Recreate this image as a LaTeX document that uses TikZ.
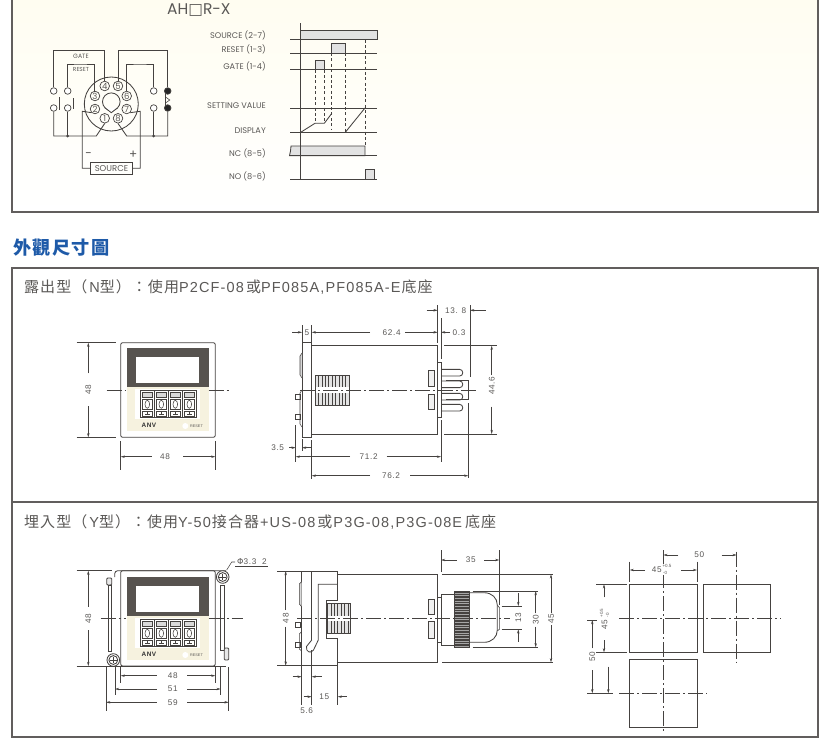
\documentclass[tikz,border=0pt]{standalone}
\usepackage{fontspec}
\setmainfont{Liberation Sans}
\newfontfamily\cjk[LetterSpace=7]{Noto Sans CJK TC}
\newfontfamily\latsp[LetterSpace=8]{Liberation Sans}
\newfontfamily\geo{Poppins}
\newfontfamily\djv{DejaVu Sans}
\usetikzlibrary{arrows.meta}
\definecolor{lncol}{HTML}{454240}
\definecolor{txtcol}{HTML}{5A5856}
\definecolor{pulsegray}{HTML}{E2E2E2}
\definecolor{bandcol}{HTML}{57534F}
\definecolor{creamcol}{HTML}{F6F2DF}
\definecolor{headblue}{HTML}{1E5AA8}
\definecolor{paneltop}{HTML}{FFFDF1}
\newcommand{\zh}[1]{{\cjk\fontsize{15}{16}\selectfont #1}}
% front of the unit, #1 = vertical shift, #2 = prefix of names
\newcommand{\frontpanel}[2]{
    \begin{scope}[shift={(0,#1)}]
        \fill[creamcol] (127.3,387.3) rectangle (208.7,430.7);
        \fill[white] (135,388.5) rectangle (200,418.5);
        \fill[bandcol] (127.3,348.3) rectangle (208.7,387.3);
        \fill[white] (136.3,356.7) rectangle (199.3,383.3);
        \draw[thinl] (140,390.3) rectangle (196,417.7);
        \foreach \k in {0,14,28,42} {
            \draw[thinl] (140+\k,390.3) -- (140+\k,417.7);
            \draw[thinl, fill=gray!30] (142.7+\k,392) rectangle (152+\k,397.5);
            \draw[thinl] (142.7+\k,399.3) rectangle (152+\k,409.3);
            \draw[thinl] (147.3+\k,404.3) ellipse (2.3pt and 4pt);
            \draw[thinl] (142.7+\k,411) rectangle (152+\k,416.7);
            \draw[thinl] (145+\k,413.9) -- (150+\k,413.9) (147.5+\k,412.4) -- (147.5+\k,415.4);
        }
        \node[font=\latsp\fontsize{6.4}{7}\selectfont\bfseries, text=black!80] (#2anv) at (149,425.7) {ANV};
        \fill[white] (185.3,426) circle[radius=3pt];
        \node[font=\fontsize{3.8}{4}\selectfont] (#2rst) at (196.5,426) {RESET};
    \end{scope}
}
% cooling slots seen from the side
\newcommand{\finblock}[5]{
    \fill[gray!22] (#1,#3) rectangle (#2,#4);
    \foreach \f in {0,...,#5} \draw[thinl, line width=.3pt] (#1+\f*3.4,#3) -- (#1+\f*3.4,#4);
    \draw[thinl] (#1,#3) rectangle (#2,#4);
}
\begin{document}
\begin{tikzpicture}[
        x=1pt, y=-1pt,
        >={Stealth[length=4.2pt, width=2.4pt]},
        every node/.style={inner sep=0pt, text=txtcol},
        outl/.style={draw=lncol, line width=.85pt},
        thinl/.style={draw=lncol, line width=.55pt},
        boxl/.style={draw=lncol!85, line width=1.1pt},
        axis/.style={thinl, dash pattern=on 15pt off 3pt on 2pt off 3pt},
        lbl/.style={font=\latsp\fontsize{8.2}{9}\selectfont},
        vlbl/.style={lbl, rotate=90},
        tinylbl/.style={font=\fontsize{4.5}{5}\selectfont},
        tlbl/.style={font=\geo\fontsize{8.2}{9}\selectfont, anchor=east},
        pulse/.style={outl, fill=pulsegray},
        ter/.style={draw=lncol, line width=.7pt, circle, minimum size=9.6pt, font=\geo\fontsize{8.5}{9}\selectfont},
        sw/.style={draw=lncol, line width=.7pt, circle, fill=white, minimum size=6.6pt},
        swon/.style={sw, fill=black!85},
        jn/.style={circle, fill=lncol, minimum size=3pt},
    ]
    \useasboundingbox (0,0) rectangle (830,752);
    % top panel
    \shade[top color=paneltop, bottom color=white] (12,0) rectangle (818,212);
    \draw[boxl] (12,0) -- (12,212) -- (818,212) -- (818,0);
    \node[font=\geo\fontsize{15.5}{17}\selectfont, anchor=west] (title) at (167,10) {AH{\djv □}R-X};
    % socket
    \draw[outl] (111.3,104) circle[radius=27pt];
    \draw[outl] (111.3,101.7) circle[radius=8.8pt];
    \fill[white] (104.9,107.7) -- (117.7,107.7) -- (111.3,112.7) -- cycle;
    \draw[outl] (104.9,107.7) -- (111.3,112.7) -- (117.7,107.7);
    \foreach \n/\px/\py in {1/104.7/118.3, 2/95/109, 3/95/96, 4/104.7/86, 5/118/86, 6/126.7/96, 7/126.7/109, 8/118/118.3}
        \node[ter] (t\n) at (\px,\py) {\n};
    \node[sw] (swa) at (53.7,91) {};
    \node[sw] (swb) at (67.7,91) {};
    \node[sw] (swc) at (153.7,91) {};
    \node[swon] (swd) at (167.7,91) {};
    \node[sw] (swe) at (53.7,108) {};
    \node[sw] (swf) at (67.7,108) {};
    \node[sw] (swg) at (153.7,108) {};
    \node[swon] (swh) at (167.7,108) {};
    \node[draw=lncol, line width=.7pt, minimum width=41.6pt, minimum height=11.3pt, font=\geo\fontsize{8.5}{9}\selectfont] (source) at (111.5,168.3) {SOURCE};
    \coordinate (gatetop) at (80,50.7);
    \coordinate (rsttop) at (80,64);
    \coordinate (fivetop) at (140,50.7);
    \coordinate (sixtop) at (140,64);
    \coordinate (buslft) at (96.3,136);
    \coordinate (busrgt) at (126.7,136);
    \coordinate (ltwo) at (82.3,111.3);
    \coordinate (lsev) at (140.3,111.3);
    \draw[outl] (swa.north) |- (gatetop) -| (t4.north);
    \draw[outl] (swb.north) |- (rsttop) -| (94.3,91.5);
    \draw[outl] (t5.north) |- (fivetop) -| (swd.north);
    \draw[outl] (t6.north) |- (sixtop) -| (swc.north);
    \draw[outl] (swe.south) |- (buslft) -- (t1.south);
    \draw[outl] (swh.south) |- (busrgt) -- (t8.south);
    \draw[outl] (swf.south) -- (67.7,136);
    \draw[outl] (swg.south) -- (153.7,136);
    \draw[outl] (t2.south west) -- (ltwo) |- (source.west);
    \draw[outl] (t7.south east) -- (lsev) |- (source.east);
    \node[jn] (jna) at (67.7,136) {};
    \node[jn] (jnb) at (153.7,136) {};
    \draw[outl] (59.3,97) -- (59.3,110);
    \draw[outl] (73.3,98) -- (73.3,109);
    \draw[outl] (165.5,94) -- (165.5,106);
    \draw[thinl] (165.5,97) -- (169.8,100) -- (165.5,103);
    \node[font=\geo\fontsize{6.2}{7}\selectfont] (gatelbl) at (81,56.7) {GATE};
    \node[font=\geo\fontsize{5.8}{6}\selectfont] (rstlbl) at (81,69.3) {RESET};
    \node[font=\geo\fontsize{12}{12}\selectfont] (minus) at (88.5,155) {−};
    \node[font=\geo\fontsize{12}{12}\selectfont] (plus) at (133.3,155) {+};
    % timing chart
    \node[tlbl] (tsrc) at (266,35.5) {SOURCE (2-7)};
    \node[tlbl] (trst) at (266,49) {RESET (1-3)};
    \node[tlbl] (tgat) at (266,66) {GATE (1-4)};
    \node[tlbl] (tset) at (266,105.5) {SETTING VALUE};
    \node[tlbl] (tdsp) at (266,130.5) {DISPLAY};
    \node[tlbl] (tnc) at (266,153) {NC (8-5)};
    \node[tlbl] (tno) at (266,176) {NO (8-6)};
    \draw[pulse] (300.7,39.7) rectangle (377,30.7);
    \draw[pulse] (331.7,53) rectangle (345.3,43.7);
    \draw[pulse] (315,69.7) rectangle (324.3,60.7);
    \draw[pulse] (365,155.7) -- (365,146) -- (291,146) -- (290.5,151) -- (289.5,155.7) -- cycle;
    \draw[pulse] (365,179) rectangle (374.7,169.3);
    \foreach \b in {39.7,53,69.7,108,132.3,155.7,179}
        \draw[outl] (290,\b) -- (376.7,\b);
    \draw[outl] (300.7,23.3) -- (300.7,179);
    \draw[outl, dash pattern=on 3pt off 2.4pt] (315,69.7) -- (315,123.3);
    \draw[outl, dash pattern=on 3pt off 2.4pt] (324.3,69.7) -- (324.3,123.3);
    \draw[outl, dash pattern=on 3pt off 2.4pt] (331.7,53) -- (331.7,130);
    \draw[outl, dash pattern=on 3pt off 2.4pt] (345.3,53) -- (345.3,132.3);
    \draw[outl, dash pattern=on 3pt off 2.4pt] (365,39.7) -- (365,146);
    \draw[outl] (300.7,132.3) -- (315,123.3) -- (324.3,123.3) -- (331.7,113.5);
    \draw[outl] (345.3,132.3) -- (365,108);
    % headings
    \node[font=\cjk\fontsize{18.2}{20}\selectfont\bfseries, text=headblue, anchor=west] (head) at (13,248) {外觀尺寸圖};
    \draw[boxl] (12,268) rectangle (818,737);
    \draw[boxl] (12,502) -- (818,502);
    \node[font=\latsp\fontsize{14.5}{16}\selectfont, anchor=west] (headn) at (24,287)
        {\zh{露出型（}\kern2pt N\zh{型）：使用}P2CF-08\kern2pt\zh{或}PF085A,PF085A-E\kern1pt\zh{底座}};
    \node[font=\latsp\fontsize{14.5}{16}\selectfont, anchor=west] (heady) at (24,522)
        {\zh{埋入型（}\kern2pt Y\zh{型）：使用}Y-50\kern1pt\zh{接合器}\kern1pt +US-08\kern2pt\zh{或}\kern1pt P3G-08,P3G-08E\kern3pt\zh{底座}};
    % type N, front
    \frontpanel{0}{n}
    \draw[outl, rounded corners=2pt] (120.7,342.7) rectangle (215.3,437.3);
    \draw[axis] (106.7,390) -- (126,390);
    \draw[axis] (208.7,390) -- (230.7,390);
    \draw[thinl] (76.7,342.7) -- (116,342.7) (76.7,437.3) -- (116,437.3);
    \draw[thinl] (120.7,441) -- (120.7,470) (215.3,441) -- (215.3,470);
    \draw[thinl, ->] (88.3,373.3) -- (88.3,342.7);
    \draw[thinl, ->] (88.3,406) -- (88.3,437.3);
    \node[vlbl] (n48a) at (88.3,390) {48};
    \draw[thinl, ->] (151.7,456.7) -- (120.7,456.7);
    \draw[thinl, ->] (183.3,456.7) -- (215.3,456.7);
    \node[lbl] (n48b) at (165,456.7) {48};
    % type N, side
    \draw[outl] (311.7,345.7) -- (437.7,345.7) -- (437.7,434) -- (311.7,434);
    \draw[outl] (302,342.7) rectangle (311.7,437.3);
    \draw[thinl, fill=gray!30] (302,353) -- (300,356) -- (300,375) -- (302,378);
    \draw[thinl] (302,390) -- (300,393) -- (300,424) -- (302,427);
    \draw[thinl] (295,394.3) rectangle (300,399.3) (295,414.3) rectangle (300,419.3);
    \finblock{315}{349.3}{375}{405}{10}
    \fill[white] (315.5,387.3) rectangle (349,392.7);
    \draw[outl, fill=gray!12] (428.3,370.7) rectangle (434,386);
    \draw[outl, fill=gray!12] (428.3,394) rectangle (434,409.3);
    \foreach \p in {372.7,384.3,396.7,407.7}
        \draw[outl, rounded corners=3pt, fill=white] (441,\p-3.3) -- (462.7,\p-3.3) -- (462.7,\p+3.3) -- (441,\p+3.3);
    \draw[thinl] (446,380.7) -- (468.3,380.7) -- (468.3,399) -- (446,399);
    \draw[outl, fill=white] (437.7,362.3) rectangle (441,417.3);
    \draw[axis] (300,390) -- (476.7,390);
    \draw[thinl] (437.7,305) -- (437.7,343) (441,318.3) -- (441,359.3) (441,420) -- (441,462.3);
    \draw[thinl] (444,345.7) -- (496.7,345.7) (444,434) -- (496.7,434);
    \draw[thinl] (470,305) -- (470,376.7) (468.3,403) -- (468.3,478.3);
    \draw[thinl] (302,325) -- (302,342) (311.7,325) -- (311.7,342);
    \draw[thinl] (295.7,425) -- (295.7,462.3) (302,439) -- (302,450.7) (311.7,440) -- (311.7,479.3);
    \draw[thinl, ->] (491.7,375) -- (491.7,345.7);
    \draw[thinl, ->] (491.7,406.7) -- (491.7,434);
    \node[vlbl] (n446) at (491.7,386) {44.6};
    \draw[thinl, ->] (426.7,310.3) -- (437.7,310.3);
    \draw[thinl, ->] (485.7,310.3) -- (470,310.3);
    \node[lbl] (n138) at (455.7,310.3) {13. 8};
    \draw[thinl, ->] (292.3,332.3) -- (302,332.3);
    \node[lbl] (n5) at (307,332.3) {5};
    \draw[thinl, ->] (370,332.3) -- (311.7,332.3);
    \node[lbl] (n624) at (391.7,332.3) {62.4};
    \draw[thinl, ->] (405,332.3) -- (437.7,332.3);
    \draw[thinl, ->] (450,332.3) -- (441,332.3);
    \node[lbl] (n03) at (459,332.3) {0.3};
    \draw[thinl, ->] (289.3,447.7) -- (295.7,447.7);
    \draw[thinl, ->] (311.7,447.7) -- (302,447.7);
    \node[lbl] (n35) at (277.7,447.7) {3.5};
    \draw[thinl, ->] (350,456.7) -- (295.7,456.7);
    \node[lbl] (n712) at (368.7,456.7) {71.2};
    \draw[thinl, ->] (386.7,456.7) -- (441,456.7);
    \draw[thinl, ->] (370,475.7) -- (311.7,475.7);
    \node[lbl] (n762) at (391,475.7) {76.2};
    \draw[thinl, ->] (410,475.7) -- (468.3,475.7);
    % type Y, front
    \frontpanel{229}{y}
    \draw[outl, rounded corners=2pt] (120.7,570.7) rectangle (215.3,666);
    \draw[outl, rounded corners=3pt] (114.7,577) -- (114.7,570.7) -- (226,570.7);
    \draw[outl] (106,666) -- (226,666);
    \draw[outl, fill=gray!18, rounded corners=1pt] (106.7,585) -- (106.7,578) -- (111.7,578) -- (111.7,585) -- cycle;
    \draw[outl, fill=white] (108.7,585) rectangle (111.7,651.7);
    \draw[outl, fill=white] (220.7,585) rectangle (224.3,650);
    \draw[outl, fill=gray!18, rounded corners=1pt] (224.3,648) -- (228.7,648) -- (228.7,660) -- (224.3,660) -- cycle;
    \foreach \sx/\sy in {222.7/577, 113.3/660} {
        \draw[outl, fill=white] (\sx,\sy) circle[radius=6.3pt];
        \draw[outl] (\sx,\sy) circle[radius=4.4pt];
        \draw[thinl] (\sx-3.4,\sy) -- (\sx+3.4,\sy) (\sx,\sy-3.4) -- (\sx,\sy+3.4);
    }
    \draw[axis] (100.7,618.3) -- (126,618.3);
    \draw[axis] (208.7,618.3) -- (243.3,618.3);
    \draw[thinl] (76.7,570.7) -- (111.7,570.7) (76.7,666) -- (131.7,666);
    \draw[thinl, ->] (88.3,606.7) -- (88.3,570.7);
    \draw[thinl, ->] (88.3,630) -- (88.3,666);
    \node[vlbl] (y48a) at (88.3,618.5) {48};
    \node[lbl, anchor=west] (yphi) at (237,562) {{\djv Φ}3.3\ \ 2};
    \draw[thinl] (226.7,570) -- (231.7,562) -- (235,562);
    \draw[thinl] (235,566.5) -- (268,566.5);
    \draw[thinl] (120.7,667) -- (120.7,682.7) (215.3,667) -- (215.3,682.7);
    \draw[thinl] (115,667) -- (115,695.3) (220.7,667) -- (220.7,695.3);
    \draw[thinl] (106,667) -- (106,710.7) (228.7,667) -- (228.7,710.7);
    \foreach \dy/\da/\db/\dt in {675.7/120.7/215.3/48, 689/115/220.7/51, 702.3/106/228.7/59} {
        \draw[thinl, ->] (156.7,\dy) -- (\da,\dy);
        \draw[thinl, ->] (187.3,\dy) -- (\db,\dy);
        \node[lbl] (yd\dt) at (172.7,\dy) {\dt};
    }
    % type Y, side
    \draw[outl] (337.7,574.3) -- (437.7,574.3) -- (437.7,662.3) -- (337.7,662.3);
    \draw[outl] (337.7,600) -- (337.7,571) -- (301.7,571) -- (301.7,665.7) -- (337.7,665.7) -- (337.7,638.3) -- (326.7,638.3) -- (326.7,600) -- cycle;
    \draw[outl] (311.7,571) -- (311.7,640) (311.7,650) -- (311.7,665.7);
    \draw[outl] (337.7,584.3) -- (318.3,584.3) -- (318.3,640) -- (313.5,650) .. controls (311,654) and (305.5,652) .. (306.5,646.5) -- (311.7,640);
    \draw[thinl, fill=gray!30] (301.7,581.7) -- (299.3,584) -- (299.3,604) -- (301.7,606.7);
    \draw[thinl] (301.7,631.7) -- (299.3,634) -- (299.3,649) -- (301.7,651);
    \draw[thinl] (295,622.3) rectangle (300,627.3) (295,642.3) rectangle (300,647.3);
    \finblock{327.3}{350}{603.3}{633.3}{6}
    \fill[white] (327.8,615.7) rectangle (349.5,621);
    \draw[outl, fill=gray!12] (428.3,599) rectangle (434,614.3);
    \draw[outl, fill=gray!12] (428.3,621.7) rectangle (434,638.3);
    \draw[outl] (437.7,597) rectangle (441,642);
    \draw[outl] (441,594.3) rectangle (454.3,645);
    \draw[outl] (469.3,592.7) -- (484,592.7) .. controls (492,592.7) and (497.3,598) .. (497.3,605) -- (497.3,630) .. controls (497.3,637) and (492,642.3) .. (484,642.3) -- (469.3,642.3);
    \draw[thinl] (497.3,605) -- (499.7,608) -- (499.7,629) -- (497.3,631);
    \fill[gray!70] (454.3,591) rectangle (469.3,647.7);
    \foreach \r in {591,592.6,...,647.7} \draw[draw=lncol, line width=.4pt] (454.3,\r) -- (469.3,\r);
    \draw[outl] (454.3,591) rectangle (469.3,647.7);
    \draw[axis] (297.3,618.3) -- (510,618.3);
    \draw[thinl] (441,550) -- (441,571.7) (499.3,550) -- (499.3,605);
    \draw[thinl, ->] (456.7,560) -- (441,560);
    \draw[thinl, ->] (484.3,560) -- (499.3,560);
    \node[lbl] (y35) at (470.7,560) {35};
    \draw[thinl] (442.3,574.3) -- (553.3,574.3) (442.3,662.3) -- (553.3,662.3);
    \draw[thinl, ->] (551,613.3) -- (551,574.3);
    \draw[thinl, ->] (551,625) -- (551,662.3);
    \node[vlbl] (y45) at (551,619) {45};
    \draw[thinl] (472.7,591) -- (538.3,591) (472.7,647.3) -- (538.3,647.3);
    \draw[thinl, ->] (535.7,613.3) -- (535.7,591);
    \draw[thinl, ->] (535.7,626.7) -- (535.7,647.3);
    \node[vlbl] (y30) at (535.7,619.5) {30};
    \draw[thinl] (501.7,606) -- (521.7,606) (501.7,629.3) -- (521.7,629.3);
    \draw[thinl, ->] (518.3,593.3) -- (518.3,606);
    \draw[thinl, ->] (518.3,641.7) -- (518.3,629.3);
    \node[vlbl] (y13) at (518.3,618) {13};
    \draw[thinl] (277.3,571) -- (301,571) (277.3,665.7) -- (301,665.7);
    \draw[thinl, ->] (285.7,610) -- (285.7,571);
    \draw[thinl, ->] (285.7,626.7) -- (285.7,665.7);
    \node[vlbl] (y48b) at (285.7,618.3) {48};
    \draw[thinl] (301.7,666) -- (301.7,705) (311.7,666) -- (311.7,705) (337.7,666) -- (337.7,705);
    \draw[thinl, ->] (292.7,676.7) -- (301.7,676.7);
    \draw[thinl, ->] (321.7,676.7) -- (311.7,676.7);
    \draw[thinl, ->] (303.5,696.7) -- (311.7,696.7);
    \node[lbl] (y15) at (324.3,696.7) {15};
    \draw[thinl, ->] (346.7,696.7) -- (337.7,696.7);
    \node[lbl] (y56) at (306.7,711) {5.6};
    % cut-outs
    \draw[outl] (629.7,584.3) rectangle (697,652.3);
    \draw[outl] (703,584.3) rectangle (770.7,652.3);
    \draw[outl] (629.7,659.3) rectangle (697,727.3);
    \draw[axis] (619.3,618) -- (781,618);
    \draw[axis] (619.3,693.3) -- (706.7,693.3);
    \draw[axis] (663.3,550.3) -- (663.3,733.3);
    \draw[axis] (736.7,551.7) -- (736.7,663.3);
    \draw[thinl] (629.7,561.7) -- (629.7,581.7) (697,561.7) -- (697,581.7);
    \draw[thinl, ->] (645,570) -- (629.7,570);
    \draw[thinl, ->] (681,570) -- (697,570);
    \fill[white] (651,564) rectangle (674,575);
    \node[lbl] (c45a) at (656.7,570) {45};
    \node[tinylbl] (c45ap) at (667,566.3) {+0.5};
    \node[tinylbl] (c45am) at (665,572.5) {-0};
    \draw[thinl, ->] (678.3,555) -- (663.3,555);
    \draw[thinl, ->] (721.7,555) -- (736.7,555);
    \node[lbl] (c50a) at (699.3,555) {50};
    \draw[thinl] (596,584.3) -- (626.7,584.3) (596,652.3) -- (626.7,652.3);
    \draw[thinl, ->] (604,597.3) -- (604,584.3);
    \draw[thinl, ->] (604,640) -- (604,652.3);
    \node[vlbl] (c45b) at (604.5,625) {45};
    \node[tinylbl, rotate=90] (c45bp) at (601.5,613) {+0.5};
    \node[tinylbl, rotate=90] (c45bm) at (607.5,615) {-0};
    \draw[thinl] (587.3,620) -- (597.3,620) (587.3,693.3) -- (613.3,693.3);
    \draw[thinl, ->] (592.3,648.3) -- (592.3,620);
    \draw[thinl, ->] (592.3,670) -- (592.3,693.3);
    \draw[thinl, ->] (608.3,666.7) -- (608.3,693.3);
    \node[vlbl] (c50b) at (592.3,657) {50};
\end{tikzpicture}
\end{document}
